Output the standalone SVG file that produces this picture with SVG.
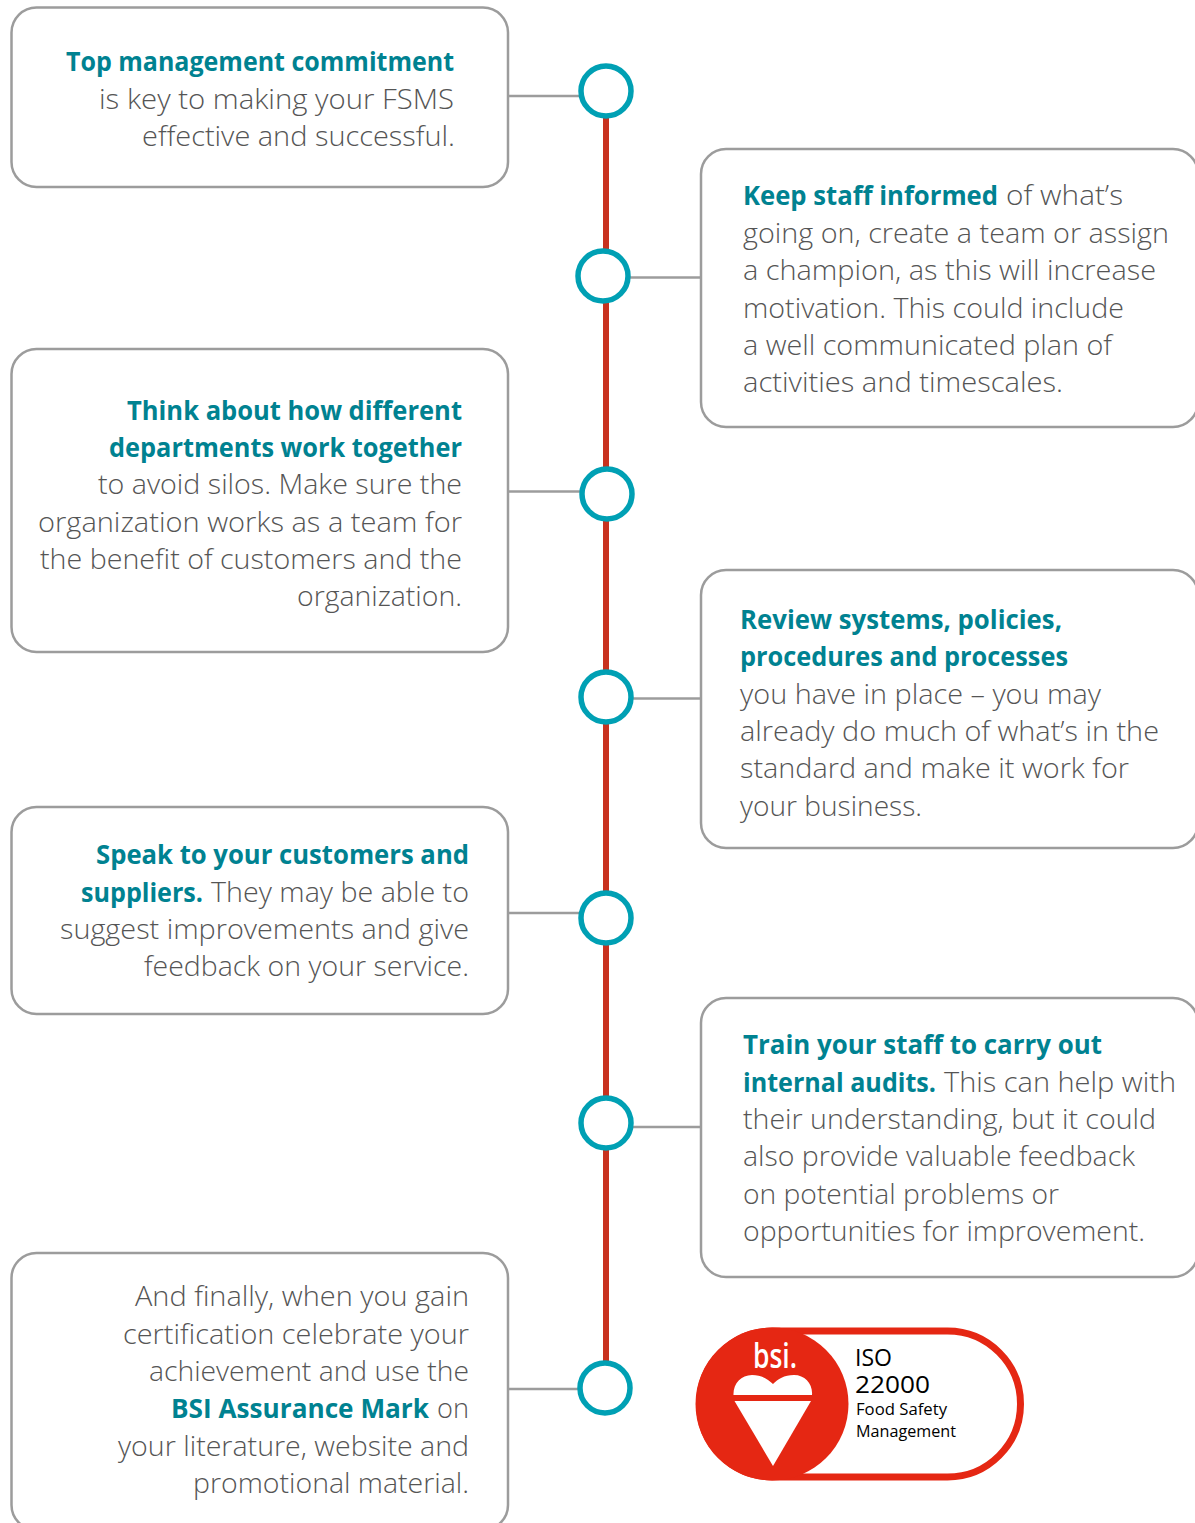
<svg xmlns="http://www.w3.org/2000/svg" width="1195" height="1523" viewBox="0 0 1195 1523">
<style>
text{font-family:"Open Sans","Noto Sans",sans-serif;font-size:27.500px;fill:#555;font-weight:300}
.b{fill:#008291;font-weight:700}
.box{fill:#fff;stroke:#9c9c9c;stroke-width:2.5}
.c{fill:#fff;stroke:#00a0b4;stroke-width:5.5}
.l{stroke:#9c9c9c;stroke-width:2.5;fill:none}
.m{fill:#000;font-weight:400}
</style>
<rect width="1195" height="1523" fill="#fff"/>
<g id="connectors">
<line x1="606" y1="118" x2="606" y2="1362" stroke="#c8321f" stroke-width="6"/>
<line class="l" x1="508" y1="96" x2="580" y2="96"/>
<line class="l" x1="630" y1="277.500" x2="701" y2="277.500"/>
<line class="l" x1="508" y1="491.500" x2="582" y2="491.500"/>
<line class="l" x1="632" y1="698.500" x2="701" y2="698.500"/>
<line class="l" x1="508" y1="913" x2="580" y2="913"/>
<line class="l" x1="632" y1="1127" x2="701" y2="1127"/>
<line class="l" x1="508" y1="1389" x2="580" y2="1389"/>
</g>
<g id="markers">
<ellipse class="c" cx="606" cy="91" rx="25" ry="25"/>
<ellipse class="c" cx="603" cy="276" rx="25" ry="25"/>
<ellipse class="c" cx="607" cy="494" rx="25" ry="25"/>
<ellipse class="c" cx="606" cy="697" rx="25" ry="25"/>
<ellipse class="c" cx="606" cy="918" rx="25" ry="25"/>
<ellipse class="c" cx="606" cy="1123" rx="25" ry="25"/>
<ellipse class="c" cx="605" cy="1388" rx="25" ry="25"/>
</g>
<g id="node1">
<rect class="box" x="11.500" y="7.500" width="496.500" height="179.500" rx="25"/>
<text class="b" x="66" y="71" textLength="388" lengthAdjust="spacingAndGlyphs">Top management commitment</text>
<text x="99" y="109" textLength="355" lengthAdjust="spacingAndGlyphs">is key to making your FSMS</text>
<text x="142" y="146" textLength="313" lengthAdjust="spacingAndGlyphs">effective and successful.</text>
</g>
<g id="node2">
<rect class="box" x="701" y="149" width="497" height="278" rx="25"/>
<text class="b" x="743" y="205" textLength="255" lengthAdjust="spacingAndGlyphs">Keep staff informed</text>
<text x="1006" y="205" textLength="117" lengthAdjust="spacingAndGlyphs">of what’s</text>
<text x="743" y="243" textLength="426" lengthAdjust="spacingAndGlyphs">going on, create a team or assign</text>
<text x="743" y="280" textLength="413" lengthAdjust="spacingAndGlyphs">a champion, as this will increase</text>
<text x="743" y="318" textLength="381" lengthAdjust="spacingAndGlyphs">motivation. This could include</text>
<text x="743" y="355" textLength="369" lengthAdjust="spacingAndGlyphs">a well communicated plan of</text>
<text x="743" y="392" textLength="320" lengthAdjust="spacingAndGlyphs">activities and timescales.</text>
</g>
<g id="node3">
<rect class="box" x="11.500" y="349" width="496.500" height="303" rx="25"/>
<text class="b" x="127" y="420" textLength="335" lengthAdjust="spacingAndGlyphs">Think about how different</text>
<text class="b" x="109" y="457" textLength="353" lengthAdjust="spacingAndGlyphs">departments work together</text>
<text x="98" y="494" textLength="364" lengthAdjust="spacingAndGlyphs">to avoid silos. Make sure the</text>
<text x="38" y="532" textLength="424" lengthAdjust="spacingAndGlyphs">organization works as a team for</text>
<text x="40" y="569" textLength="422" lengthAdjust="spacingAndGlyphs">the benefit of customers and the</text>
<text x="297" y="606" textLength="165" lengthAdjust="spacingAndGlyphs">organization.</text>
</g>
<g id="node4">
<rect class="box" x="701" y="570" width="497" height="278" rx="25"/>
<text class="b" x="740" y="629" textLength="322" lengthAdjust="spacingAndGlyphs">Review systems, policies,</text>
<text class="b" x="740" y="666" textLength="328" lengthAdjust="spacingAndGlyphs">procedures and processes</text>
<text x="740" y="704" textLength="361" lengthAdjust="spacingAndGlyphs">you have in place – you may</text>
<text x="740" y="741" textLength="419" lengthAdjust="spacingAndGlyphs">already do much of what’s in the</text>
<text x="740" y="778" textLength="389" lengthAdjust="spacingAndGlyphs">standard and make it work for</text>
<text x="740" y="816" textLength="182" lengthAdjust="spacingAndGlyphs">your business.</text>
</g>
<g id="node5">
<rect class="box" x="11.500" y="807" width="496.500" height="207" rx="25"/>
<text class="b" x="96" y="864" textLength="373" lengthAdjust="spacingAndGlyphs">Speak to your customers and</text>
<text class="b" x="81" y="902" textLength="122" lengthAdjust="spacingAndGlyphs">suppliers.</text>
<text x="211" y="902" textLength="258" lengthAdjust="spacingAndGlyphs">They may be able to</text>
<text x="60" y="939" textLength="409" lengthAdjust="spacingAndGlyphs">suggest improvements and give</text>
<text x="144" y="976" textLength="325" lengthAdjust="spacingAndGlyphs">feedback on your service.</text>
</g>
<g id="node6">
<rect class="box" x="701" y="998" width="497" height="279" rx="25"/>
<text class="b" x="743" y="1054" textLength="359" lengthAdjust="spacingAndGlyphs">Train your staff to carry out</text>
<text class="b" x="743" y="1092" textLength="193" lengthAdjust="spacingAndGlyphs">internal audits.</text>
<text x="944" y="1092" textLength="232" lengthAdjust="spacingAndGlyphs">This can help with</text>
<text x="743" y="1129" textLength="413" lengthAdjust="spacingAndGlyphs">their understanding, but it could</text>
<text x="743" y="1166" textLength="392" lengthAdjust="spacingAndGlyphs">also provide valuable feedback</text>
<text x="743" y="1204" textLength="316" lengthAdjust="spacingAndGlyphs">on potential problems or</text>
<text x="743" y="1241" textLength="402" lengthAdjust="spacingAndGlyphs">opportunities for improvement.</text>
</g>
<g id="node7">
<rect class="box" x="11.500" y="1253" width="496.500" height="277" rx="25"/>
<text x="135" y="1306" textLength="334" lengthAdjust="spacingAndGlyphs">And finally, when you gain</text>
<text x="123" y="1344" textLength="346" lengthAdjust="spacingAndGlyphs">certification celebrate your</text>
<text x="149" y="1381" textLength="320" lengthAdjust="spacingAndGlyphs">achievement and use the</text>
<text class="b" x="171" y="1418" textLength="258" lengthAdjust="spacingAndGlyphs">BSI Assurance Mark</text>
<text x="437" y="1418" textLength="32" lengthAdjust="spacingAndGlyphs">on</text>
<text x="118" y="1456" textLength="351" lengthAdjust="spacingAndGlyphs">your literature, website and</text>
<text x="193" y="1493" textLength="276" lengthAdjust="spacingAndGlyphs">promotional material.</text>
</g>
<g id="bsi-mark">
<rect x="699.500" y="1331" width="321" height="146" rx="73" fill="#fff" stroke="#e52713" stroke-width="7"/>
<circle cx="772" cy="1404" r="76.500" fill="#e52713"/>
<path d="M733.500 1395C733 1384 741 1375 752 1375C762 1375 768 1379 773 1384C778 1379 784 1375 794 1375C805 1375 813 1384 812 1395Z" fill="#fff"/>
<path d="M734.500 1401H811L773 1466Z" fill="#fff"/>
<text x="753" y="1368" textLength="44" lengthAdjust="spacingAndGlyphs" style="font-size:34px;fill:#fff;font-weight:600">bsi.</text>
<text class="m" x="855" y="1366" textLength="37" lengthAdjust="spacingAndGlyphs" style="font-size:24px">ISO</text>
<text class="m" x="855" y="1393" textLength="75" lengthAdjust="spacingAndGlyphs" style="font-size:24px">22000</text>
<text class="m" x="856" y="1415" textLength="91" lengthAdjust="spacingAndGlyphs" style="font-size:16.500px">Food Safety</text>
<text class="m" x="856" y="1437" textLength="100" lengthAdjust="spacingAndGlyphs" style="font-size:16.500px">Management</text>
</g>
</svg>
